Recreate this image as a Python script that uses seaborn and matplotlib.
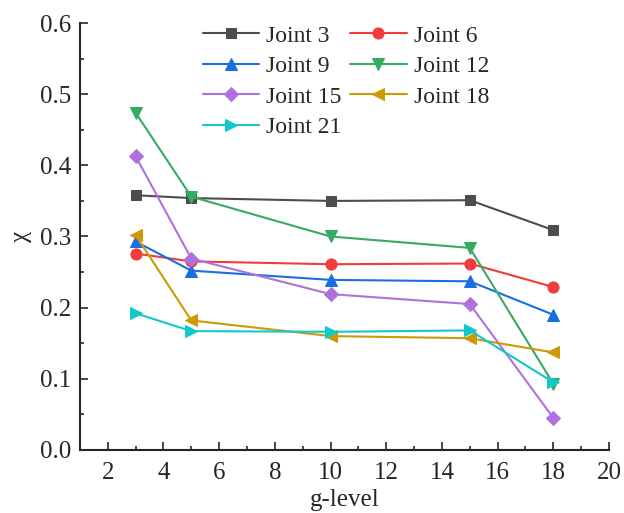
import matplotlib
matplotlib.use("Agg")
import matplotlib.pyplot as plt
import seaborn as sns
import pandas as pd
from matplotlib.ticker import MultipleLocator

g_level = [3, 5, 10, 15, 18]
joint3 = [0.358, 0.354, 0.350, 0.351, 0.309]
joint6 = [0.276, 0.265, 0.261, 0.262, 0.229]
joint9 = [0.293, 0.252, 0.239, 0.237, 0.190]
joint12 = [0.474, 0.356, 0.300, 0.284, 0.093]
joint15 = [0.413, 0.269, 0.219, 0.205, 0.045]
joint18 = [0.302, 0.182, 0.160, 0.157, 0.137]
joint21 = [0.192, 0.167, 0.166, 0.168, 0.095]

names = ["Joint 3", "Joint 6", "Joint 9", "Joint 12", "Joint 15", "Joint 18", "Joint 21"]
series = [joint3, joint6, joint9, joint12, joint15, joint18, joint21]
colors = ["#4d4d4d", "#f03c3c", "#1a6ee0", "#37aa64", "#b070e0", "#cc9a06", "#12c8c8"]
markers = ["s", "o", "^", "v", "D", "<", ">"]
msizes = [7, 8, 9, 9, 7, 9, 9]

rows = []
for n, s in zip(names, series):
    for x, y in zip(g_level, s):
        rows.append({"g": x, "chi": y, "joint": n})
df = pd.DataFrame(rows)

sns.set_style("ticks")
plt.rcParams["font.family"] = ["Liberation Serif", "DejaVu Serif"]

fig = plt.figure(figsize=(6.24, 5.13), dpi=100)
ax = fig.add_axes([0.128, 0.123, 0.848, 0.832])

for n, c, m, ms in zip(names, colors, markers, msizes):
    sub = df[df["joint"] == n]
    sns.lineplot(data=sub, x="g", y="chi", ax=ax, color=c, marker=m,
                 markersize=ms, markeredgecolor=c, linewidth=1.5, label=n)

h, l = ax.get_legend_handles_labels()
order = [0, 2, 4, 6, 1, 3, 5]
ax.legend([h[i] for i in order], [l[i] for i in order], ncol=2, frameon=False,
          loc="upper left", bbox_to_anchor=(0.232, 0.995), fontsize=17,
          handlelength=2.4, handletextpad=0.3, columnspacing=0.35,
          labelspacing=0.38, borderpad=0, borderaxespad=0)

ax.set_xlim(1, 20)
ax.set_ylim(0, 0.6)
ax.xaxis.set_major_locator(MultipleLocator(2))
ax.xaxis.set_minor_locator(MultipleLocator(1))
ax.yaxis.set_major_locator(MultipleLocator(0.1))
ax.yaxis.set_minor_locator(MultipleLocator(0.05))
ax.set_yticks([0.0, 0.1, 0.2, 0.3, 0.4, 0.5, 0.6])
ax.set_yticklabels(["0.0", "0.1", "0.2", "0.3", "0.4", "0.5", "0.6"])
ax.tick_params(which="major", direction="in", length=6, width=1.2, labelsize=18)
ax.tick_params(axis="x", which="major", pad=9)
ax.tick_params(axis="y", which="major", pad=6)
ax.tick_params(which="minor", direction="in", length=3, width=1.2)
for s in ["top", "right"]:
    ax.spines[s].set_visible(False)
for s in ["left", "bottom"]:
    ax.spines[s].set_linewidth(1.5)
ax.set_xlabel("g-level", fontsize=18, labelpad=3)
ax.set_ylabel("χ", fontsize=18, labelpad=6)

fig.savefig("out.png", dpi=100)
